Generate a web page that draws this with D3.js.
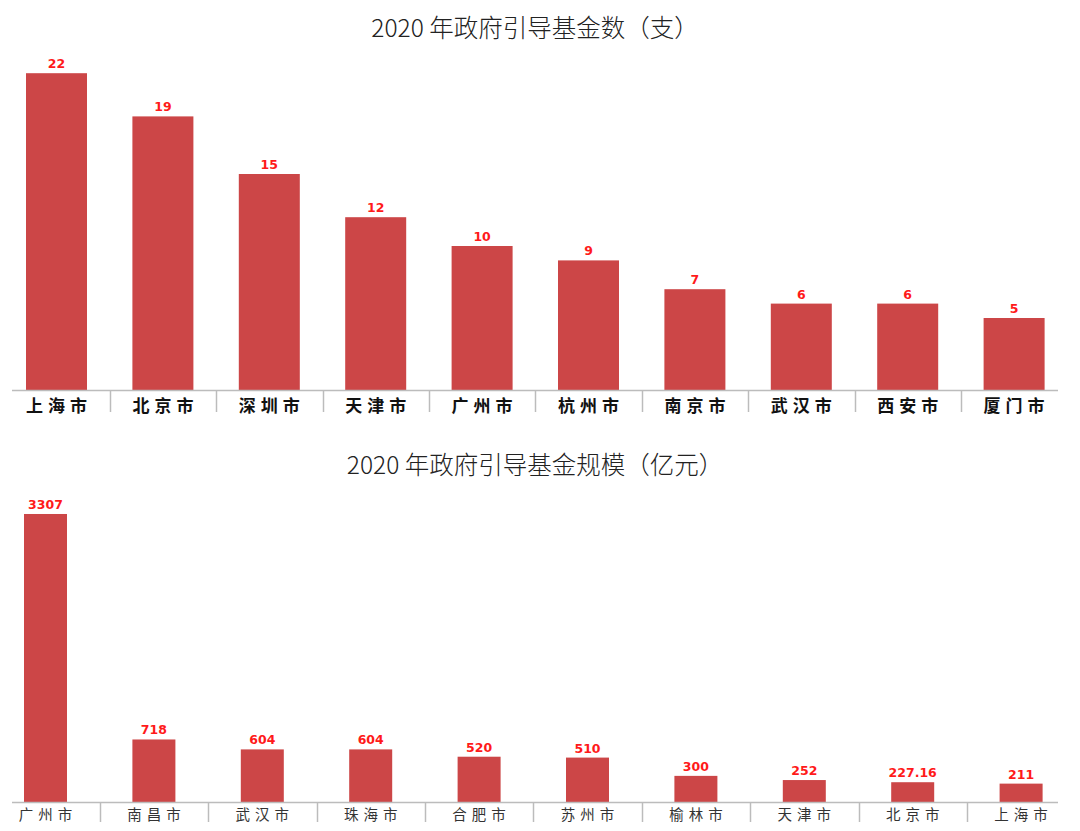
<!DOCTYPE html>
<html><head><meta charset="utf-8">
<script src="https://cdn.jsdelivr.net/npm/d3@7"></script>
<style>html,body{margin:0;padding:0;background:#fff;}</style>
</head><body>
<svg id="c" width="1080" height="831"></svg>
<script>
const title1 = "2020 年政府引导基金数（支）";
const cities1 = ["上海市","北京市","深圳市","天津市","广州市","杭州市","南京市","武汉市","西安市","厦门市"];
const counts1 = [22,19,15,12,10,9,7,6,6,5];
const countLabels1 = ["22","19","15","12","10","9","7","6","6","5"];

const title2 = "2020 年政府引导基金规模（亿元）";
const cities2 = ["广州市","南昌市","武汉市","珠海市","合肥市","苏州市","榆林市","天津市","北京市","上海市"];
const scale2 = [3307,718,604,604,520,510,300,252,227.16,211];
const scaleLabels2 = ["3307","718","604","604","520","510","300","252","227.16","211"];

const svg = d3.select("#c");
const barColor = "#cc4647";
const sans = "'Noto Sans CJK SC', 'Noto Sans', sans-serif";

function drawChart(o){
  const g = svg.append("g");
  g.append("text").attr("x", o.titleX).attr("y", o.titleY)
    .attr("text-anchor","middle").attr("font-family", sans)
    .attr("font-size", o.titleSize).attr("fill","#222").attr("font-weight", 300)
    .text(o.title);
  const x = d3.scaleBand().domain(o.cats).range(o.xRange).paddingInner(o.padIn).paddingOuter(o.padOut);
  const y = d3.scaleLinear().domain([0, o.yMax]).range([o.y0, o.yTop]);
  g.selectAll("rect.bar").data(o.vals).join("rect").attr("class","bar")
    .attr("x", (d,i)=> x(o.cats[i]) + (x.bandwidth()-o.barW)/2)
    .attr("width", o.barW)
    .attr("y", d=> y(d)).attr("height", d=> y(0)-y(d))
    .attr("fill", barColor);
  g.selectAll("text.val").data(o.vals).join("text").attr("class","val")
    .attr("x", (d,i)=> x(o.cats[i]) + x.bandwidth()/2)
    .attr("y", d=> y(d)-5)
    .attr("text-anchor","middle").attr("font-family","'DejaVu Sans', Verdana, sans-serif")
    .attr("font-weight","bold").attr("font-size", 12.5).attr("fill","#ff1a1a")
    .text((d,i)=> o.labels[i]);
  // axis
  const axis = d3.axisBottom(x).tickSize(0).tickPadding(o.tickPad);
  const ag = g.append("g").attr("transform", `translate(0,${o.y0})`).call(axis);
  ag.select(".domain").remove();
  ag.selectAll("text").attr("font-family", o.labelFont).attr("font-size", o.labelSize)
    .attr("font-weight", o.labelWeight).attr("fill", o.labelColor)
    .style("letter-spacing", o.letterSp + "px").attr("dx", (o.letterSp/2)+"px");
  g.append("line").attr("x1", o.axisX[0]).attr("x2", o.axisX[1])
    .attr("y1", o.y0+0.5).attr("y2", o.y0+0.5).attr("stroke","#bcbcbc").attr("stroke-width",1.5);
  const seps = o.cats.slice(1).map(c=> x(c) - x.step()*x.paddingInner()/2);
  g.selectAll("line.sep").data(seps).join("line").attr("class","sep")
    .attr("x1", d=> Math.round(d)+0.5).attr("x2", d=> Math.round(d)+0.5)
    .attr("y1", o.y0).attr("y2", o.y0+o.sepLen).attr("stroke","#bcbcbc").attr("stroke-width",1.5);
}

drawChart({
  title: title1, titleX: 535, titleY: 37, titleSize: 24.5,
  cats: cities1, vals: counts1, labels: countLabels1,
  xRange: [3.3, 1067.3], padIn: 0, padOut: 0, barW: 61,
  yMax: 25, y0: 390, yTop: 30,
  tickPad: 10, labelFont: "'Noto Sans CJK SC', serif", labelSize: 17, labelWeight: "bold",
  labelColor: "#111", letterSp: 5,
  axisX: [12, 1058], sepLen: 22
});

drawChart({
  title: title2, titleX: 535, titleY: 474, titleSize: 24.5,
  cats: cities2, vals: scale2, labels: scaleLabels2,
  xRange: [-8.7, 1075.3], padIn: 0, padOut: 0, barW: 43,
  yMax: 3500, y0: 802, yTop: 802 - 3500*0.08709,
  tickPad: 8, labelFont: sans, labelSize: 14.5, labelWeight: "normal",
  labelColor: "#333", letterSp: 5,
  axisX: [12, 1058], sepLen: 20
});
</script>
</body></html>
